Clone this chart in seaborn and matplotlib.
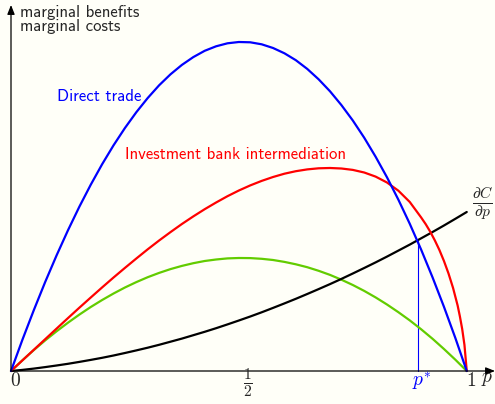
import numpy as np
import pandas as pd
import matplotlib
matplotlib.use("Agg")
import matplotlib.pyplot as plt
import seaborn as sns

# valores (altura em unidades arbitrárias)
p_grid = [0, 0.025, 0.05, 0.075, 0.1, 0.125, 0.15, 0.175, 0.2, 0.225, 0.25,
          0.275, 0.3, 0.325, 0.35, 0.375, 0.4, 0.425, 0.45, 0.475, 0.5,
          0.525, 0.55, 0.575, 0.6, 0.625, 0.65, 0.675, 0.7, 0.725, 0.75,
          0.775, 0.8, 0.825, 0.85, 0.875, 0.9, 0.925, 0.95, 0.975, 1.0]
direct_trade = [0, 0.312, 0.608, 0.890, 1.156, 1.407, 1.643, 1.863, 2.068, 2.257, 2.430,
                2.588, 2.730, 2.857, 2.967, 3.061, 3.139, 3.202, 3.247, 3.277, 3.290,
                3.287, 3.267, 3.230, 3.177, 3.108, 3.021, 2.917, 2.797, 2.659, 2.505,
                2.333, 2.143, 1.937, 1.713, 1.472, 1.213, 0.936, 0.642, 0.330, 0]
green_curve = [0, 0.107, 0.209, 0.306, 0.397, 0.483, 0.564, 0.640, 0.710, 0.775, 0.835,
               0.889, 0.938, 0.981, 1.019, 1.051, 1.078, 1.100, 1.115, 1.126, 1.130,
               1.129, 1.122, 1.110, 1.091, 1.067, 1.038, 1.002, 0.961, 0.913, 0.860,
               0.801, 0.736, 0.665, 0.588, 0.506, 0.417, 0.322, 0.220, 0.113, 0]
marginal_cost = [0, 0.011, 0.024, 0.039, 0.055, 0.072, 0.091, 0.111, 0.132, 0.155, 0.180,
                 0.206, 0.233, 0.262, 0.293, 0.324, 0.358, 0.392, 0.428, 0.466, 0.505,
                 0.545, 0.587, 0.631, 0.676, 0.722, 0.770, 0.819, 0.869, 0.921, 0.975,
                 1.030, 1.086, 1.144, 1.204, 1.264, 1.327, 1.390, 1.455, 1.522, 1.590]

p_red = [0, 0.025, 0.05, 0.075, 0.1, 0.125, 0.15, 0.175, 0.2, 0.225, 0.25,
         0.275, 0.3, 0.325, 0.35, 0.375, 0.4, 0.425, 0.45, 0.475, 0.5,
         0.525, 0.55, 0.575, 0.6, 0.625, 0.65, 0.675, 0.7, 0.725, 0.75,
         0.775, 0.8, 0.825, 0.85, 0.875, 0.9, 0.91, 0.92, 0.93, 0.94, 0.95,
         0.96, 0.97, 0.98, 0.985, 0.99, 0.995, 1.0]
bank_intermediation = [0, 0.106, 0.212, 0.318, 0.424, 0.529, 0.633, 0.735, 0.836, 0.935, 1.031,
                       1.125, 1.217, 1.305, 1.389, 1.470, 1.546, 1.618, 1.685, 1.748, 1.805,
                       1.856, 1.901, 1.940, 1.973, 1.998, 2.016, 2.027, 2.030, 2.025, 2.011,
                       1.985, 1.944, 1.885, 1.803, 1.690, 1.535, 1.468, 1.392, 1.306, 1.210,
                       1.100, 0.975, 0.830, 0.655, 0.545, 0.420, 0.260, 0]

p_star = 0.892
p_star_height = 1.30

bg = "#fffff8"
green = "#62cc00"

sns.set_style("white")
plt.rcParams["mathtext.fontset"] = "cm"

fig = plt.figure(figsize=(4.95, 4.04), dpi=100, facecolor=bg)
ax = fig.add_axes([11 / 495, 33 / 404, 484 / 495, 366 / 404])
ax.set_facecolor(bg)
ax.set_xlim(0, 1.062)
ax.set_ylim(0, 3.66)
for s in ax.spines.values():
    s.set_visible(False)
ax.set_xticks([])
ax.set_yticks([])

# linha vertical em p*
ax.plot([p_star, p_star], [0, p_star_height], color="blue", lw=0.8, clip_on=False)

sns.lineplot(x=p_grid, y=green_curve, color=green, lw=1.6, ax=ax, clip_on=False)
sns.lineplot(x=p_grid, y=marginal_cost, color="black", lw=1.6, ax=ax, clip_on=False)
sns.lineplot(x=p_red, y=bank_intermediation, color="red", lw=1.6, ax=ax, clip_on=False)
sns.lineplot(x=p_grid, y=direct_trade, color="blue", lw=1.6, ax=ax, clip_on=False)

# eixos com setas
arrow = dict(arrowstyle="-|>,head_length=0.55,head_width=0.22", lw=0.9, color="black",
             shrinkA=0, shrinkB=0)
ax.annotate("", xy=(1.062, 0), xytext=(0, 0), arrowprops=arrow, annotation_clip=False)
ax.annotate("", xy=(0, 3.66), xytext=(0, 0), arrowprops=arrow, annotation_clip=False)

font = "cmss10"
ax.text(0.02, 3.54, "marginal benefits", family=font, fontsize=12, va="baseline")
ax.text(0.02, 3.40, "marginal costs", family=font, fontsize=12, va="baseline")
ax.text(0.102, 2.70, "Direct trade", family=font, fontsize=12, color="blue", va="baseline")
ax.text(0.251, 2.12, "Investment bank intermediation", family=font, fontsize=12,
        color="red", va="baseline")

ax.text(0.009, -0.095, "$0$", fontsize=14, ha="center", va="center")
ax.text(0.520, -0.12, r"$\frac{1}{2}$", fontsize=16, ha="center", va="center")
ax.text(0.901, -0.11, "$p^{*}$", fontsize=14, ha="center", va="center", color="blue")
ax.text(1.009, -0.10, "$1$", fontsize=14, ha="center", va="center")
ax.text(1.044, -0.07, "$p$", fontsize=14, ha="center", va="center")
ax.text(1.035, 1.67, r"$\frac{\partial C}{\partial p}$", fontsize=16, ha="center", va="center")

fig.savefig("out.png", dpi=100, facecolor=bg)
